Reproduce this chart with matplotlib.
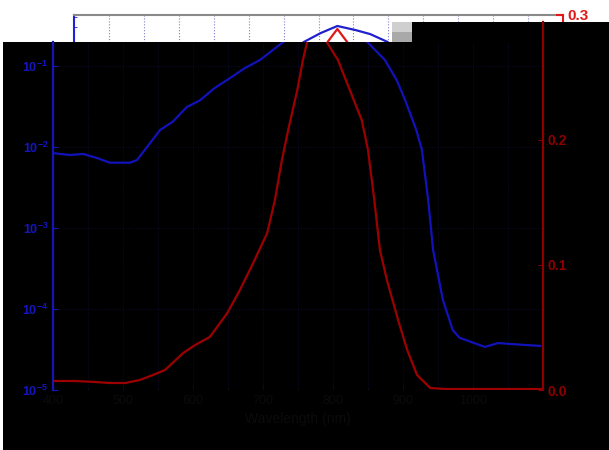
import matplotlib
matplotlib.use("Agg")
import matplotlib.pyplot as plt
from matplotlib.patches import Rectangle
from matplotlib.ticker import LogLocator, MultipleLocator, FixedLocator, NullFormatter

plt.rcParams['font.family'] = ['Liberation Sans', 'DejaVu Sans']

# traces (x in nm)
wl_blue = [400, 424, 443, 463, 481, 510, 520, 534, 553, 571,
           591, 610, 631, 653, 674, 696, 729, 753, 777, 803,
           824, 849, 874, 891, 903, 919, 927, 936, 943, 957,
           971, 981, 991, 1017, 1036, 1053, 1074, 1096]
trans_blue = [8.4e-3, 7.96e-3, 8.2e-3, 7.3e-3, 6.4e-3, 6.4e-3, 6.9e-3, 9.9e-3, 1.62e-2, 2.05e-2,
              3.1e-2, 3.77e-2, 5.35e-2, 7.1e-2, 9.4e-2, 0.119, 0.198, 0.255, 0.312, 0.278,
              0.248, 0.198, 0.119, 0.067, 0.038, 0.0162, 9.2e-3, 2.2e-3, 5.35e-4, 1.29e-4,
              5.5e-5, 4.4e-5, 4.1e-5, 3.4e-5, 3.8e-5, 3.7e-5, 3.6e-5, 3.5e-5]

wl_red = [400, 431, 460, 481, 503, 524, 539, 560, 586, 603,
          624, 649, 667, 686, 706, 717, 727, 736, 749, 757,
          763, 777, 791, 807, 824, 841, 850, 859, 867, 877,
          893, 906, 920, 939, 960, 1000, 1050, 1100]
lin_red = [0.0072, 0.0072, 0.0064, 0.0056, 0.0056, 0.0080, 0.0112, 0.016, 0.0296, 0.036,
           0.0424, 0.0616, 0.08, 0.1016, 0.1256, 0.152, 0.184, 0.208, 0.24, 0.264,
           0.2784, 0.2888, 0.2784, 0.264, 0.24, 0.216, 0.192, 0.152, 0.112, 0.088,
           0.056, 0.032, 0.012, 0.0016, 0.0008, 0.0008, 0.0008, 0.0008]

x_ticks = [400, 500, 600, 700, 800, 900, 1000]
x_lim = (400, 1100)
W, H = 609.0, 450.0


def frac(x0, y_top, x1, y_bot):
    return [x0 / W, 1 - y_bot / H, (x1 - x0) / W, (y_bot - y_top) / H]


fig = plt.figure(figsize=(6.09, 4.5), dpi=100, facecolor='white')

# ---- the white strip version of the chart (mostly hidden) ----
b = fig.add_axes(frac(74, 15, 563, 390))
b.set_zorder(1)
b.set_facecolor('white')
b.semilogy(wl_blue, trans_blue, color='#2020cc', lw=1.6)
b.set_xlim(*x_lim)
b.set_ylim(1e-5, 10 ** -0.37)
b.yaxis.set_minor_formatter(NullFormatter())
b.xaxis.set_major_locator(MultipleLocator(50))
b.grid(True, axis='x', ls=':', color='#8080c8', lw=0.8)
b.spines['top'].set_color('#8a8a8a')
b.spines['top'].set_linewidth(1.5)
b.spines['left'].set_color('#2020dd')
b.spines['left'].set_linewidth(1.5)
b.spines['right'].set_visible(False)
b.tick_params(axis='y', which='both', colors='#2020dd', direction='in', labelleft=False)
b.tick_params(axis='x', labelbottom=False, length=0)
b2 = b.twinx()
b2.set_zorder(1.5)
b2.patch.set_visible(False)
b2.plot(wl_red, lin_red, color='#e01818', lw=1.6)
b2.set_ylim(0, 0.3)
b2.set_yticks([0.3])
b2.spines['right'].set_color('#e01818')
b2.spines['right'].set_linewidth(1.5)
for s in ('top', 'left', 'bottom'):
    b2.spines[s].set_visible(False)
b2.tick_params(axis='y', colors='#e01818', direction='in', length=5, width=1.5)
for t in b2.get_yticklabels():
    t.set_fontsize(11)
    t.set_fontweight('bold')

# ---- black overlay ----
ov = fig.add_axes([0, 0, 1, 1])
ov.set_zorder(2)
ov.set_xlim(0, W)
ov.set_ylim(H, 0)
ov.axis('off')
ov.patch.set_visible(False)
ov.add_patch(Rectangle((3, 42), W - 3, H - 42, color='black', lw=0))
ov.add_patch(Rectangle((412, 22), W - 412, 20, color='black', lw=0))
ov.add_patch(Rectangle((392, 22), 20, 10, color='#cfcfcf', lw=0))
ov.add_patch(Rectangle((392, 32), 20, 10, color='#a9a9a9', lw=0))
# red axis line continues a little above the dark plot
ov.plot([543, 543], [22, 42], color='#8e0000', lw=1.6)

# ---- the dark version of the chart ----
a = fig.add_axes(frac(53, 42, 543, 390))
a.set_zorder(3)
a.patch.set_visible(False)
a.semilogy(wl_blue, trans_blue, color='#1212bb', lw=1.6)
a.set_xlim(*x_lim)
a.set_ylim(1e-5, 10 ** -0.704)
a.yaxis.set_major_locator(LogLocator(base=10, numticks=10))
a.yaxis.set_minor_locator(LogLocator(base=10, subs=[], numticks=10))
a.xaxis.set_major_locator(FixedLocator(x_ticks))
a.xaxis.set_minor_locator(MultipleLocator(50))
a.grid(True, which='both', ls=':', color='#0c0c30', lw=0.7)
a.spines['top'].set_visible(False)
a.spines['right'].set_visible(False)
a.spines['bottom'].set_visible(False)
a.spines['left'].set_color('#1515b5')
a.spines['left'].set_linewidth(1.6)
a.tick_params(axis='y', colors='#1515c0', direction='in', labelsize=9)
for t in a.get_yticklabels():
    t.set_fontweight('bold')
a.tick_params(axis='x', which='both', colors='#0b0b0b', direction='in', labelsize=9)
a.set_xlabel('Wavelength (nm)', color='#0b0b0b', fontsize=10)

a2 = a.twinx()
a2.set_zorder(4)
a2.patch.set_visible(False)
a2.plot(wl_red, lin_red, color='#9c0000', lw=1.6)
a2.set_ylim(0, 0.2784)
a2.set_yticks([0.0, 0.1, 0.2])
a2.yaxis.set_major_formatter(plt.FormatStrFormatter('%.1f'))
for s in ('top', 'left', 'bottom'):
    a2.spines[s].set_visible(False)
a2.spines['right'].set_color('#8e0000')
a2.spines['right'].set_linewidth(1.6)
a2.tick_params(axis='y', colors='#8e0000', direction='in', labelsize=10)
for t in a2.get_yticklabels():
    t.set_fontweight('bold')

fig.savefig('out.png', dpi=100, facecolor='white')
